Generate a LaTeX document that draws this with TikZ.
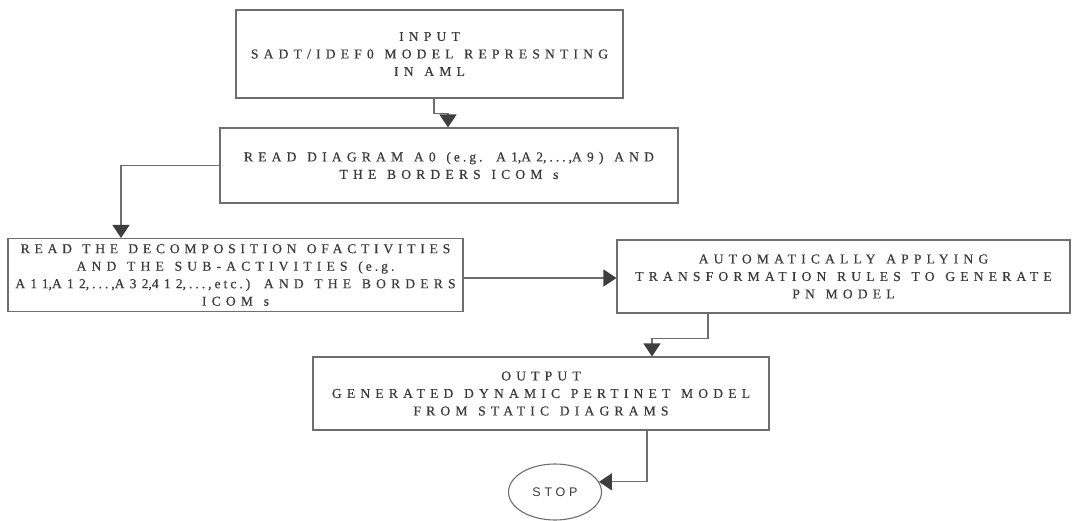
\documentclass[tikz,border=0pt]{standalone}
\usepackage{fontspec}
\setmainfont{Liberation Serif}[LetterSpace=38,WordSpace=1.25,FakeBold=0.35]
\newfontfamily\stopfont{Liberation Sans}[LetterSpace=30]
\usetikzlibrary{arrows.meta,calc,shapes.geometric}

% punctuation and lower-case runs are set with lighter tracking
\newcommand\tg[1]{{\addfontfeature{LetterSpace=22}#1}}

\definecolor{inkline}{HTML}{6E6E6E}
\definecolor{inktext}{HTML}{3A3A3A}
\definecolor{inkhead}{HTML}{3E3E3E}

\tikzset{
  stepbox/.style={draw=inkline, line width=1.1pt, rectangle, inner sep=0pt,
    align=center, text=inktext, font=\fontsize{13.6}{17.5}\selectfont},
  flow/.style={draw=inkline, line width=1.1pt,
    -{Triangle[length=13pt,width=17pt,fill=inkhead,color=inkhead]}},
  endnode/.style={draw=inkline, line width=1.1pt, ellipse, inner sep=0pt,
    text=inktext, font=\stopfont\fontsize{12.5}{14}\selectfont},
}

\begin{document}
\begin{tikzpicture}[x=1pt,y=-1pt]
  \useasboundingbox[fill=white] (0,0) rectangle (1072,520);

  % process boxes
  \node[stepbox, minimum width=387, minimum height=88] (in) at (429.5,54)
    {INPUT\\SADT/IDEF0 MODEL REPRESNTING\\IN AML};
  \node[stepbox, minimum width=458, minimum height=75] (rd) at (449,165.5)
    {READ DIAGRAM A0 \tg{(e.g.} A1\tg{,}A2\tg{,...,}A9) AND\\THE BORDERS ICOM \tg{s}};
  \node[stepbox, minimum width=455, minimum height=73] (dec) at (235.5,275)
    {{\addfontfeature{LetterSpace=35}READ THE DECOMPOSITION OFACTIVITIES}\\AND THE SUB-ACTIVITIES \tg{(e.g.}\\A11\tg{,}A12\tg{,...,}A32\tg{,}412\tg{,...,etc.)} AND THE BORDERS\\ICOM \tg{s}};
  \node[stepbox, minimum width=453, minimum height=73] (ap) at (843.5,276.5)
    {AUTOMATICALLY APPLYING\\TRANSFORMATION RULES TO GENERATE\\PN MODEL};
  \node[stepbox, minimum width=456, minimum height=73] (out) at (541,393.5)
    {OUTPUT\\GENERATED DYNAMIC PERTINET MODEL\\FROM STATIC DIAGRAMS};
  \node[endnode, minimum width=93, minimum height=56] (stop) at (555,492) {STOP};

  % connectors
  \draw[flow] ($(in.south)+(4.5,0)$) -- ++(0,15) -| ($(rd.north)+(-1,0)$);
  \draw[flow] (rd.west) -| ($(dec.north)+(-114.5,0)$);
  \draw[flow] ($(dec.east)+(0,3)$) -- ($(ap.west)+(0,1.5)$);
  \draw[flow] ($(ap.south)+(-135.5,0)$) -- ++(0,25) -| ($(out.north)+(111,0)$);
  \draw[flow] ($(out.south)+(106,0)$) |- (stop.13);
\end{tikzpicture}
\end{document}
